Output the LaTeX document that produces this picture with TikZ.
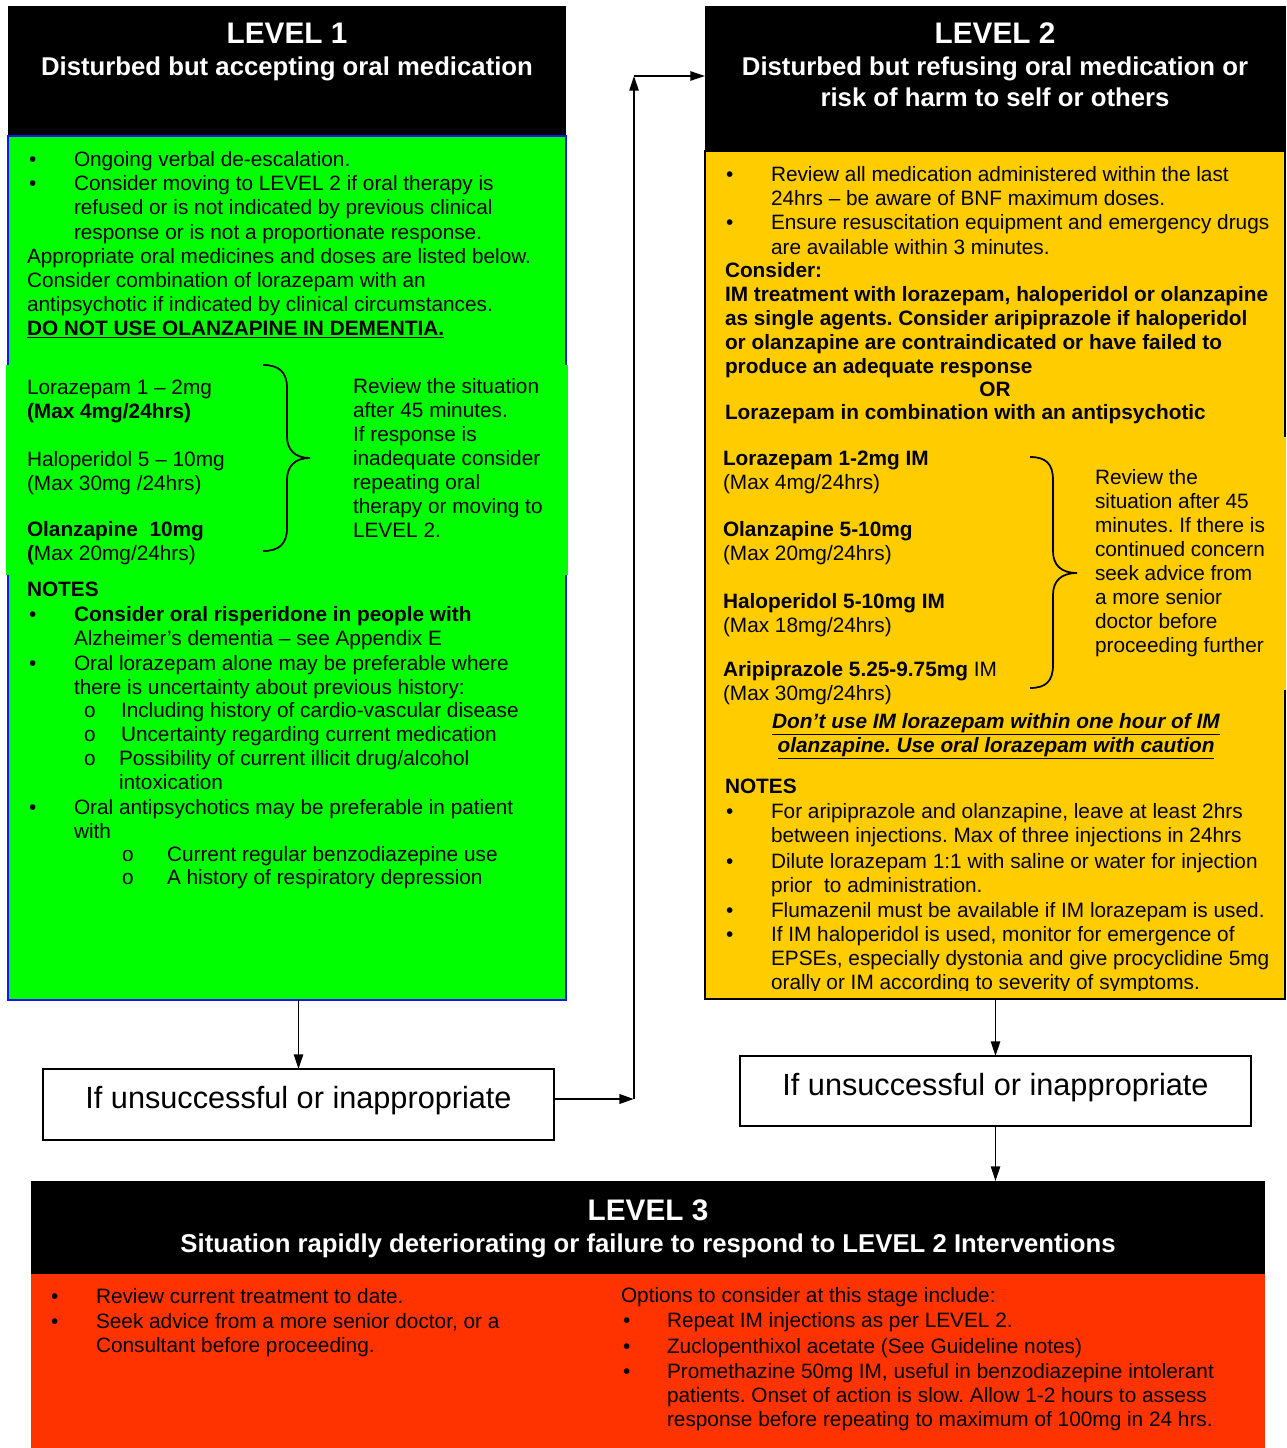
\documentclass[tikz,border=0pt]{standalone}
\usepackage{fontspec}
\setmainfont{Liberation Sans}
\usetikzlibrary{arrows.meta}
\frenchspacing

\definecolor{lvlgreen}{HTML}{00FF00}
\definecolor{lvlyellow}{HTML}{FFCC00}
\definecolor{lvlred}{HTML}{FF3300}
\definecolor{lvlblue}{HTML}{1414F5}

\newcommand\bodyfont{\fontsize{15.6}{18}\selectfont}
\newcommand\headfont{\fontsize{19.3}{23.25}\selectfont\bfseries}
\newcommand\levelfont{\fontsize{22.3}{26}\selectfont\bfseries}
\newcommand\boxfont{\fontsize{23}{27}\selectfont}
% multi-line blocks whose baseline is that of their first line
\newcommand\leftlines[1]{\begin{tabular}[t]{@{}l@{}}#1\end{tabular}}
\newcommand\midlines[1]{\begin{tabular}[t]{@{}c@{}}#1\end{tabular}}

\tikzset{
  pxsize/.style 2 args={minimum width=#1*0.75pt, minimum height=#2*0.75pt},
  panel/.style={anchor=north west, inner sep=0pt, outer sep=0pt},
  txt/.style={anchor=base west, inner sep=0pt, outer sep=0pt, font=\bodyfont},
  btxt/.style={txt, font=\bodyfont\bfseries},
  ctr/.style={anchor=base, inner sep=0pt, outer sep=0pt, font=\bodyfont},
  bul/.style={anchor=base west, inner sep=0pt, outer sep=0pt, font=\bodyfont},
  title/.style={anchor=base, inner sep=0pt, text=white, font=\levelfont},
  subtitle/.style={anchor=base, inner sep=0pt, text=white, font=\headfont},
  ifbox/.style={draw=black, line width=1.5pt, fill=white, inner sep=0pt, outer sep=0pt},
  iftext/.style={anchor=base, inner sep=0pt, font=\boxfont},
  arr/.style={-{Triangle[length=11pt,width=7pt]}, line width=1.2pt},
  bracepath/.style={line width=1.3pt}
}

\begin{document}
\begin{tikzpicture}[x=0.75pt, y=-0.75pt]
\fill[white] (0,0) rectangle (1286,1448);
\useasboundingbox (0,0) rectangle (1286,1448);

% ---------------- LEVEL 1 ----------------
\node[panel, fill=black, pxsize={558}{130}] (l1head) at (8,6) {};
\node[panel, fill=lvlgreen, draw=lvlblue, line width=1.3pt, pxsize={558}{864}] (l1body) at (8,136) {};
\node[panel, fill=lvlgreen, pxsize={562}{210}] (l1patch) at (6,365) {};

\node[title] (l1title) at (287,44) {LEVEL 1};
\node[subtitle] (l1sub) at (287,76) {Disturbed but accepting oral medication};

\node[bul] (l1d1) at (29,167) {\textbullet};
\node[txt] (l1p1) at (74,167) {Ongoing verbal de-escalation.};
\node[bul] (l1d2) at (29,191) {\textbullet};
\node[txt] (l1p2) at (74,191) {\leftlines{Consider moving to LEVEL 2 if oral therapy is\\refused or is not indicated by previous clinical\\response or is not a proportionate response.}};
\node[txt] (l1p3) at (27,263) {\leftlines{Appropriate oral medicines and doses are listed below.\\Consider combination of lorazepam with an\\antipsychotic if indicated by clinical circumstances.\\\underline{\textbf{DO NOT USE OLANZAPINE IN DEMENTIA.}}}};

\node[txt] (l1m1) at (27,394) {\leftlines{Lorazepam 1 – 2mg\\\textbf{(Max 4mg/24hrs)}}};
\node[txt] (l1m2) at (27,466) {\leftlines{Haloperidol 5 – 10mg\\(Max 30mg /24hrs)}};
\node[txt] (l1m3) at (27,536) {\leftlines{\textbf{Olanzapine\ \ 10mg}\\\textbf{(}Max 20mg/24hrs)}};
\draw[bracepath] (263,365) .. controls (279,365) and (287,372) .. (287,388) -- (287,436)
  .. controls (287,450) and (295,458) .. (310,458)
  .. controls (295,458) and (287,466) .. (287,480) -- (287,528)
  .. controls (287,544) and (279,551) .. (263,551);
\node[txt] (l1rv) at (353,393) {\leftlines{Review the situation\\after 45 minutes.\\If response is\\inadequate consider\\repeating oral\\therapy or moving to\\LEVEL 2.}};

\node[btxt] (l1notes) at (27,596) {NOTES};
\node[bul] (l1d3) at (29,621) {\textbullet};
\node[txt] (l1n1) at (74,621) {\leftlines{\textbf{Consider oral risperidone in people with}\\Alzheimer’s dementia – see Appendix E}};
\node[bul] (l1d4) at (29,670) {\textbullet};
\node[txt] (l1n2) at (74,670) {\leftlines{Oral lorazepam alone may be preferable where\\there is uncertainty about previous history:}};
\node[bul] (l1o1) at (84,717) {o};
\node[txt] (l1s1) at (121,717) {Including history of cardio-vascular disease};
\node[bul] (l1o2) at (84,741) {o};
\node[txt] (l1s2) at (121,741) {Uncertainty regarding current medication};
\node[bul] (l1o3) at (84,765) {o};
\node[txt] (l1s3) at (119,765) {\leftlines{Possibility of current illicit drug/alcohol\\intoxication}};
\node[bul] (l1d5) at (29,814) {\textbullet};
\node[txt] (l1n3) at (74,814) {\leftlines{Oral antipsychotics may be preferable in patient\\with}};
\node[bul] (l1o4) at (122,861) {o};
\node[txt] (l1s4) at (167,861) {Current regular benzodiazepine use};
\node[bul] (l1o5) at (122,884) {o};
\node[txt] (l1s5) at (167,884) {A history of respiratory depression};

% ---------------- LEVEL 2 ----------------
\node[panel, fill=black, pxsize={581}{145}] (l2head) at (705,6) {};
\node[panel, fill=lvlyellow, draw=black, line width=1.2pt, pxsize={580}{848}] (l2body) at (705,151) {};
\node[panel, fill=lvlyellow, pxsize={580}{253}] (l2patch) at (706,437) {};

\node[title] (l2title) at (995,44) {LEVEL 2};
\node[subtitle] (l2sub) at (995,76) {\midlines{Disturbed but refusing oral medication or\\risk of harm to self or others}};

\node[bul] (l2d1) at (726,182) {\textbullet};
\node[txt] (l2p1) at (771,182) {\leftlines{Review all medication administered within the last\\24hrs – be aware of BNF maximum doses.}};
\node[bul] (l2d2) at (726,230) {\textbullet};
\node[txt] (l2p2) at (771,230) {\leftlines{Ensure resuscitation equipment and emergency drugs\\are available within 3 minutes.}};
\node[btxt] (l2cons) at (725,277) {\leftlines{Consider:\\IM treatment with lorazepam, haloperidol or olanzapine\\as single agents. Consider aripiprazole if haloperidol\\or olanzapine are contraindicated or have failed to\\produce an adequate response}};
\node[ctr, font=\bodyfont\bfseries] (l2or) at (995,396) {OR};
\node[btxt] (l2comb) at (725,419) {Lorazepam in combination with an antipsychotic};

\node[txt] (l2m1) at (723,465) {\leftlines{\textbf{Lorazepam 1-2mg IM}\\(Max 4mg/24hrs)}};
\node[txt] (l2m2) at (723,536) {\leftlines{\textbf{Olanzapine 5-10mg}\\(Max 20mg/24hrs)}};
\node[txt] (l2m3) at (723,608) {\leftlines{\textbf{Haloperidol 5-10mg IM}\\(Max 18mg/24hrs)}};
\node[txt] (l2m4) at (723,676) {\leftlines{\textbf{Aripiprazole 5.25-9.75mg} IM\\(Max 30mg/24hrs)}};
\draw[bracepath] (1030,457) .. controls (1046,457) and (1053,464) .. (1053,480) -- (1053,551)
  .. controls (1053,565) and (1061,573) .. (1077,573)
  .. controls (1061,573) and (1053,581) .. (1053,595) -- (1053,665)
  .. controls (1053,681) and (1046,688) .. (1030,688);
\node[txt] (l2rv) at (1095,484) {\leftlines{Review the\\situation after 45\\minutes. If there is\\continued concern\\seek advice from\\a more senior\\doctor before\\proceeding further}};

\node[ctr] (l2warn) at (996,728) {\midlines{\underline{\textbf{\textit{Don’t use IM lorazepam within one hour of IM}}}\\\underline{\textbf{\textit{olanzapine. Use oral lorazepam with caution}}}}};

\node[btxt] (l2notes) at (725,793) {NOTES};
\node[bul] (l2d3) at (726,818) {\textbullet};
\node[txt] (l2n1) at (771,818) {\leftlines{For aripiprazole and olanzapine, leave at least 2hrs\\between injections. Max of three injections in 24hrs}};
\node[bul] (l2d4) at (726,868) {\textbullet};
\node[txt] (l2n2) at (771,868) {\leftlines{Dilute lorazepam 1:1 with saline or water for injection\\prior\ \ to administration.}};
\node[bul] (l2d5) at (726,917) {\textbullet};
\node[txt] (l2n3) at (771,917) {Flumazenil must be available if IM lorazepam is used.};
\begin{scope}
  \clip (705,920) rectangle (1286,990);
  \node[bul] (l2d6) at (726,941) {\textbullet};
  \node[txt] (l2n4) at (771,941) {\leftlines{If IM haloperidol is used, monitor for emergence of\\EPSEs, especially dystonia and give procyclidine 5mg\\orally or IM according to severity of symptoms.}};
\end{scope}

% ---------------- decision boxes ----------------
\node[ifbox, pxsize={511}{71}] (ifone) at (298.5,1104.5) {};
\node[iftext] (ifonetext) at (298.5,1108) {If unsuccessful or inappropriate};
\node[ifbox, pxsize={511}{70}] (iftwo) at (995.5,1091) {};
\node[iftext] (iftwotext) at (995.5,1095) {If unsuccessful or inappropriate};

% ---------------- LEVEL 3 ----------------
\node[panel, fill=black, pxsize={1234}{93}] (l3head) at (31,1181) {};
\node[panel, fill=lvlred, pxsize={1234}{174}] (l3body) at (31,1274) {};

\node[title] (l3title) at (648,1220) {LEVEL 3};
\node[subtitle] (l3sub) at (648,1252) {Situation rapidly deteriorating or failure to respond to LEVEL 2 Interventions};

\node[bul] (l3d1) at (51,1303) {\textbullet};
\node[txt] (l3p1) at (96,1303) {Review current treatment to date.};
\node[bul] (l3d2) at (51,1328) {\textbullet};
\node[txt] (l3p2) at (96,1328) {\leftlines{Seek advice from a more senior doctor, or a\\Consultant before proceeding.}};
\node[txt] (l3opt) at (621,1302) {Options to consider at this stage include:};
\node[bul] (l3d3) at (623,1327) {\textbullet};
\node[txt] (l3o1) at (667,1327) {Repeat IM injections as per LEVEL 2.};
\node[bul] (l3d4) at (623,1353) {\textbullet};
\node[txt] (l3o2) at (667,1353) {Zuclopenthixol acetate (See Guideline notes)};
\node[bul] (l3d5) at (623,1378) {\textbullet};
\node[txt] (l3o3) at (667,1378) {\leftlines{Promethazine 50mg IM, useful in benzodiazepine intolerant\\patients. Onset of action is slow. Allow 1-2 hours to assess\\response before repeating to maximum of 100mg in 24 hrs.}};

% ---------------- connectors ----------------
\coordinate (bendlow) at (634,1099);
\coordinate (bendhigh) at (634,76);
\draw[arr] (ifone.north |- l1body.south) -- (ifone.north);
\draw[arr, line width=2pt] (bendlow -| ifone.east) -- (bendlow);
\draw[arr] (bendlow) -- (bendhigh);
\draw[arr] (bendhigh) -- (bendhigh -| l2head.west);
\draw[arr] (iftwo.north |- l2body.south) -- (iftwo.north);
\draw[arr] (iftwo.south) -- (iftwo.south |- l3head.north);
\end{tikzpicture}
\end{document}
